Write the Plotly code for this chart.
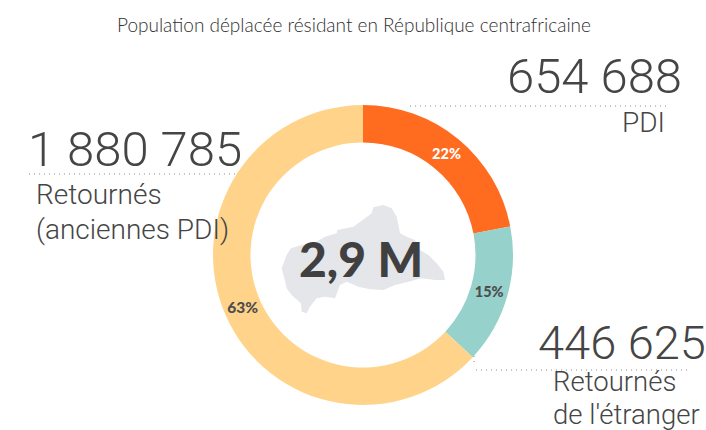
import plotly.graph_objects as go

W, H = 706, 430
categories = ["PDI", "Retournés de l'étranger", "Retournés (anciennes PDI)"]
values = [654688, 446625, 1880785]
shares = ["22%", "15%", "63%"]
colors = ["#FF6B1F", "#97D1CB", "#FFD38A"]
text_colors = ["#FFFFFF", "#4D4D4D", "#4D4D4D"]
title = "Population déplacée résidant en République centrafricaine"
total_label = "2,9 M"
number_labels = ["654 688", "446 625", "1 880 785"]
# Decorative country silhouette outline (pixels within the map crop)
map_outline = [(20,205),(35,165),(48,145),(80,135),(125,125),(150,110),(185,100),(187,90),(235,80),(270,55),(290,40),(295,22),(325,15),(350,25),(365,50),(372,85),(375,100),(395,110),(420,120),(435,150),(460,165),(485,190),(505,215),(510,240),(480,240),(440,235),(400,245),(360,255),(325,270),(285,268),(250,260),(215,245),(195,255),(180,295),(150,290),(125,295),(105,320),(95,340),(80,335),(78,310),(50,285),(35,265),(28,235)]

def px(x): return x / W
def py(y): return 1 - y / H

fig = go.Figure(go.Pie(
    labels=categories, values=values, text=shares, textinfo="text",
    textposition="inside", insidetextorientation="horizontal",
    sort=False, direction="clockwise", rotation=0, hole=0.75,
    marker=dict(colors=colors, line=dict(width=0)),
    textfont=dict(family="Lato", size=[14.5, 14.5, 15.5], weight=900, color=text_colors),
    domain=dict(x=[px(213), px(513)], y=[py(405), py(105)]),
    showlegend=False, hoverinfo="label+value+percent",
))

path = "M " + " L ".join(f"{px(275+a/3):.5f},{py(200+b/3):.5f}" for a, b in map_outline) + " Z"
shapes = [dict(type="path", xref="paper", yref="paper", path=path,
               fillcolor="#E5E6EA", line=dict(width=0), layer="below")]
for x0, y0, x1, y1 in [(410,106,668,106),(29,174,235,174),(476,370,691,370),(474,356,474,364)]:
    shapes.append(dict(type="line", xref="paper", yref="paper", x0=px(x0), y0=py(y0), x1=px(x1), y1=py(y1),
                       line=dict(color="#8C8C8C", width=1, dash="1px,4px")))

def note(x, y, text, size, anchor="left", weight=300, color="#454545", family="Roboto"):
    return dict(x=px(x), y=py(y), xref="paper", yref="paper", text=text, showarrow=False,
                xanchor=anchor, yanchor="middle", align=anchor,
                font=dict(family=family, size=size, weight=weight, color=color))

anns = [
    note(354, 25, title, 19, "center", 300, "#303030", "Lato"),
    note(684, 76, number_labels[0], 49, "right"),
    note(643, 123, categories[0], 28, "center"),
    note(26, 149, number_labels[2], 49),
    note(34, 194, "Retournés", 28),
    note(34, 229, "(anciennes PDI)", 28),
    note(536, 342, number_labels[1], 47),
    note(551, 381.5, "Retournés", 27.5),
    note(551, 414, "de l'étranger", 27.5),
    note(361, 258, total_label, 48, "center", 900, "#404040", "Lato"),
]

fig.update_layout(width=W, height=H, margin=dict(l=0, r=0, t=0, b=0),
                  paper_bgcolor="white", plot_bgcolor="white",
                  shapes=shapes, annotations=anns)
fig.write_html("out.html", config=dict(displayModeBar=False),
               post_script="document.body.style.margin='0';document.documentElement.style.overflow='hidden';")
